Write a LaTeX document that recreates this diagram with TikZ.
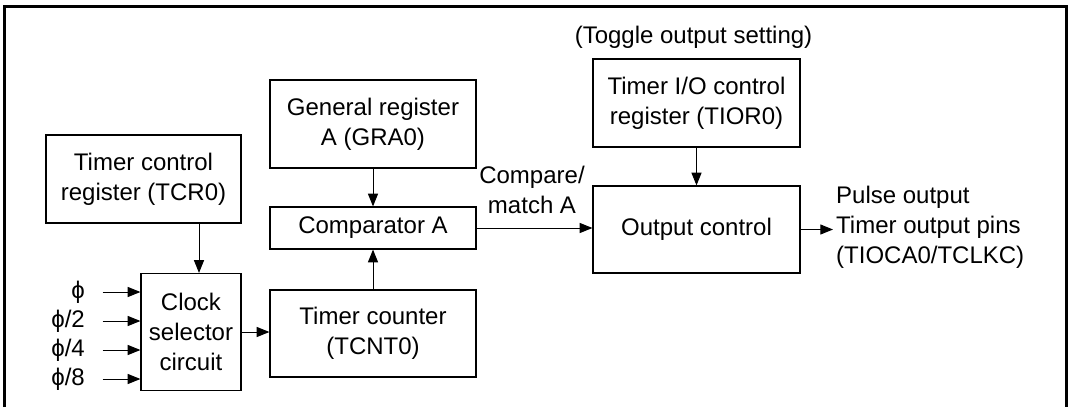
\documentclass[tikz,border=0pt]{standalone}
\usepackage{fontspec}
\setmainfont{Liberation Sans}
\usetikzlibrary{arrows.meta}

\begin{document}
\begin{tikzpicture}[x=0.75pt,y=-0.75pt,line width=0.75pt,
    font=\fontsize{18}{22.5}\selectfont,
    >={Triangle[length=9.5pt,width=7.5pt]},
    blk/.style={draw,line width=0.9pt,align=center,inner sep=0pt}]
\useasboundingbox (0,0) rectangle (1073,407);
\draw [line width=2.25pt] (4,407) |- (1066,6.5) -- (1066,407);
\node [blk,minimum width=146.25pt,minimum height=66pt] (tcr) at (143.5,179)
    {Timer control\\register (TCR0)};
\node [blk,minimum width=75pt,minimum height=87.75pt] (clk) at (191,332)
    {Clock\\selector\\circuit};
\node [blk,minimum width=154.5pt,minimum height=66pt] (gra) at (373,124)
    {General register\\A (GRA0)};
\node [blk,minimum width=154.5pt,minimum height=31.5pt] (cmp) at (373,228)
    {Comparator A};
\node [blk,minimum width=154.5pt,minimum height=65.25pt] (tcnt) at (373,333.5)
    {Timer counter\\(TCNT0)};
\node [blk,minimum width=155.25pt,minimum height=66pt] (tior) at (696.5,103)
    {Timer I/O control\\register (TIOR0)};
\node [blk,minimum width=155.25pt,minimum height=65.25pt] (outc) at (696.5,229.5)
    {Output control};
\node (tgl) at (693.5,37) {(Toggle output setting)};
\node [align=center] (cmptxt) at (532,190) {Compare/\\match A};
\node [anchor=west,align=left,inner sep=2pt] (pout) at (833,227)
    {Pulse output\\Timer output pins\\(TIOCA0/TCLKC)};
\foreach \lbl [count=\i] in {ϕ,ϕ/2,ϕ/4,ϕ/8} {
    \node [anchor=east,inner sep=2pt] (ph\i) at (88,263+29*\i) {\lbl};
    \draw ([xshift=11pt]ph\i.east) [->] -- (ph\i.east -| clk.west);
}
\draw ([xshift=6pt]clk.north |- tcr.south) [->] -- ([xshift=6pt]clk.north);
\draw (clk.east) [->] -- (clk.east -| tcnt.west);
\draw (gra) [->] -- (cmp);
\draw (tcnt) [->] -- (cmp);
\draw (cmp.east) [->] -- (cmp.east -| outc.west);
\draw (tior) [->] -- (outc);
\draw (outc.east) [->] -- (outc.east -| pout.west);
\end{tikzpicture}
\end{document}
